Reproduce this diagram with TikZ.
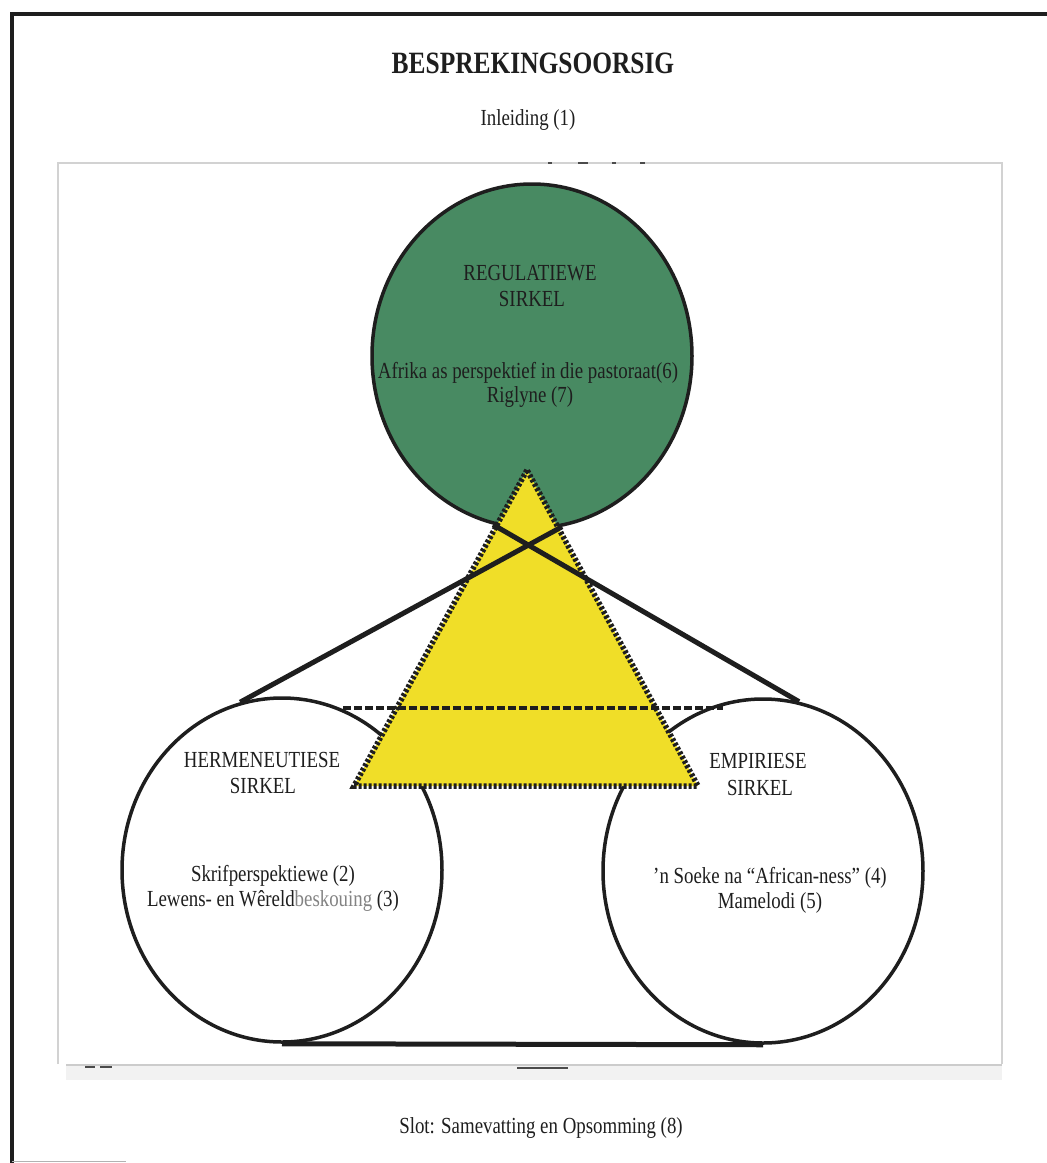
\documentclass[tikz,border=0pt]{standalone}
\usepackage{fontspec}
\setmainfont{Liberation Serif}[FakeStretch=0.82]
\usetikzlibrary{shapes.geometric}

\definecolor{circlegreen}{RGB}{72,138,98}
\definecolor{triyellow}{RGB}{240,222,40}
\definecolor{ink}{RGB}{30,30,30}
\definecolor{panelgrey}{RGB}{210,210,210}

\tikzset{
  lbl/.style={inner sep=0pt, anchor=base, text=ink,
              font=\fontsize{23}{26}\selectfont},
  ttl/.style={inner sep=0pt, anchor=base, text=ink,
              font=\bfseries\fontsize{31}{34}\selectfont},
  ring/.style={ellipse, draw=ink, line width=3.5pt, inner sep=0pt,
               minimum width=320pt, minimum height=344pt},
  tie/.style={draw=ink, line width=5pt},
  dotline/.style={draw=ink, line width=5.5pt, dash pattern=on 3pt off 2pt},
  dashline/.style={draw=ink, line width=4.5pt, dash pattern=on 8pt off 3pt},
  speck/.style={draw=ink!80, line width=1.6pt},
}

\begin{document}
\begin{tikzpicture}[x=1pt,y=-1pt]
\useasboundingbox (0,0) rectangle (1047,1163);

% page frame (left and top rules)
\draw[ink, line width=4pt] (12,1163) -- (12,14) -- (1047,14);
\draw[gray!60, line width=1pt] (12,1161.5) -- (126,1161.5);

% inner panel
\fill[gray!10] (66,1064) rectangle (1002,1080);
\draw[gray!40, line width=1.2pt] (66,1065) -- (1002,1065);
\draw[panelgrey, line width=2pt] (58,1064) -- (58,163) -- (1002,163) -- (1002,1064);
\draw[speck] (548,163) -- (552,163);
\draw[speck] (578,163) -- (588,163);
\draw[speck] (612,163) -- (616,163);
\draw[speck] (640,163) -- (645,163);
\draw[speck] (85,1067) -- (95,1067);
\draw[speck] (100,1067) -- (112,1067);
\draw[speck] (517,1068) -- (568,1068);

% headings
\node[ttl] (title) at (533,73) {BESPREKINGSOORSIG};
\node[lbl] (intro) at (528,125) {Inleiding (1)};
\node[lbl] (close) at (541,1133) {Slot: Samevatting en Opsomming (8)};

% the three circles
\node[ring, fill=white] (herm) at (282,870) {};
\node[ring, fill=white] (emp) at (763,871) {};
\node[ring, fill=circlegreen] (reg) at (532,356) {};

% yellow triangle
\coordinate (apex) at (527,470);
\coordinate (bl) at (354,786);
\coordinate (br) at (698,786);
\fill[triyellow] (apex) -- (bl) -- (br) -- cycle;
\draw[dotline] (apex) -- (bl) -- (br) -- cycle;

% crossing links and base link
\draw[tie] (herm.104) -- (reg.280);
\draw[tie] (emp.78) -- (reg.257);
\draw[tie] (herm.south) -- (emp.south);

% dashed level line
\coordinate (dl) at (343,708);
\coordinate (dr) at (723,708);
\draw[dashline] (dl) -- (dr);

% text of the regulative circle
\node[lbl] (regA) at (530,280) {REGULATIEWE};
\node[lbl] (regB) at (532,306) {SIRKEL};
\node[lbl] (regC) at (528,378) {Afrika as perspektief in die pastoraat(6)};
\node[lbl] (regD) at (530,402) {Riglyne (7)};

% text of the hermeneutic circle
\node[lbl] (hermA) at (262,767) {HERMENEUTIESE};
\node[lbl] (hermB) at (263,793) {SIRKEL};
\node[lbl] (hermC) at (273,881) {Skrifperspektiewe (2)};
\node[lbl] (hermD) at (273,906) {Lewens- en Wêreld\textcolor{ink!55}{beskouing} (3)};

% text of the empirical circle
\node[lbl] (empA) at (758,768) {EMPIRIESE};
\node[lbl] (empB) at (760,795) {SIRKEL};
\node[lbl] (empC) at (770,883) {’n Soeke na “African-ness” (4)};
\node[lbl] (empD) at (770,908) {Mamelodi (5)};
\end{tikzpicture}
\end{document}
